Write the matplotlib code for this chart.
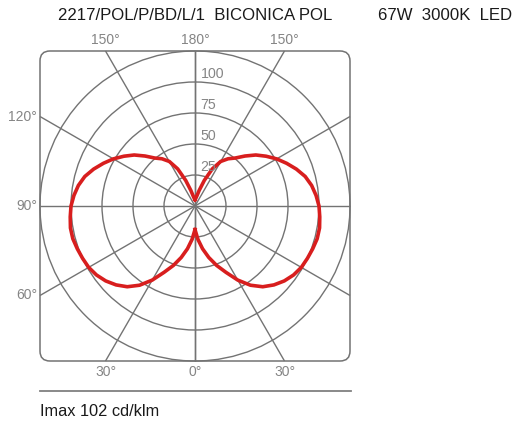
import numpy as np
import matplotlib
matplotlib.use("Agg")
import matplotlib.pyplot as plt
from matplotlib.patches import FancyBboxPatch, Circle
from matplotlib.lines import Line2D

# ---- data (cd/klm vs angle from nadir, symmetric C0-C180 plane) ----
angles_deg = [0, 5, 10, 15, 20, 25, 30, 35, 40, 45, 50, 55, 60, 65, 70, 75, 80, 85, 90,
              95, 100, 105, 110, 115, 120, 125, 130, 135, 140, 145, 150, 155, 160, 165, 170, 175, 180]
intensity = [19, 27, 35, 43, 51, 59, 69, 78, 85, 90, 94, 97, 99, 100, 101, 102, 102, 101, 100,
             98, 95.5, 92, 87, 81.5, 76, 70, 64, 57, 50.5, 46.5, 41.5, 33, 22, 13, 8, 6, 5]
ring_values = [25, 50, 75, 100, 125]
ring_labels = ["25", "50", "75", "100"]
spoke_angles = [0, 30, 60, 90, 120, 150, 180]
top_labels = ["150°", "180°", "150°"]
left_labels = ["120°", "90°", "60°"]
bottom_labels = ["30°", "0°", "30°"]
title_left = "2217/POL/P/BD/L/1  BICONICA POL"
title_right = "67W  3000K  LED"
footer = "Imax 102 cd/klm"

plt.rcParams["font.family"] = ["Liberation Sans", "DejaVu Sans"]

W, H = 516, 426
fig = plt.figure(figsize=(W / 100, H / 100), dpi=100)
R = 125.0
# axes spans the square frame: pixels x 40..350, y 51..361
ax = fig.add_axes([40 / W, (H - 361) / H, 310 / W, 310 / H])
ax.set_xlim(-R, R)
ax.set_ylim(-R, R)
ax.set_aspect("equal")
ax.axis("off")

grid_c = "#737373"
lab_c = "#858585"

# frame
frame = FancyBboxPatch((-R, -R), 2 * R, 2 * R,
                       boxstyle="round,pad=0,rounding_size=8",
                       fill=False, ec=grid_c, lw=1.1, clip_on=False)
ax.add_patch(frame)

# rings
for rv in ring_values:
    ax.add_patch(Circle((0, 0), rv, fill=False, ec=grid_c, lw=1.0, clip_on=False))

# spokes (0 deg = downward)
for a in spoke_angles:
    t = np.radians(a)
    s, c = np.sin(t), np.cos(t)
    L = R / max(abs(s), abs(c))
    for sign in (-1, 1):
        ax.plot([0, sign * L * s], [0, -L * c], color=grid_c, lw=1.0,
                clip_on=False, solid_capstyle="butt")

# ring labels
for rv, lab in zip(ring_values[:4], ring_labels):
    ax.text(4.5, rv + 1.0, lab, ha="left", va="bottom", fontsize=10.2, color=lab_c)

# angle labels
off = R * np.tan(np.radians(30))
for x, lab in zip([-off, 0, off], top_labels):
    ax.text(x, R + 8.5, lab, ha="center", va="center", fontsize=10, color=lab_c)
for x, lab in zip([-off, 0, off], bottom_labels):
    ax.text(x, -R - 9, lab, ha="center", va="center", fontsize=10, color=lab_c)
for y, lab in zip([off, 0, -off], left_labels):
    ax.text(-R - 2.5, y, lab, ha="right", va="center", fontsize=10, color=lab_c)

# curve
th = np.radians(angles_deg)
I = np.array(intensity)
red = "#d81e1e"
ax.plot(-I * np.sin(th), -I * np.cos(th), color=red, lw=2.6, clip_on=False,
        solid_joinstyle="round")
ax.plot(I * np.sin(th), -I * np.cos(th), color=red, lw=2.6, clip_on=False,
        solid_joinstyle="round")

# titles
fig.text(195 / W, 1 - 16 / H, title_left, ha="center", va="center", fontsize=12.1, color="#1a1a1a")
fig.text(378 / W, 1 - 16 / H, title_right, ha="left", va="center", fontsize=12.1, color="#1a1a1a")

# footer rule and text
fig.add_artist(Line2D([40 / W, 351 / W], [1 - 391 / H, 1 - 391 / H], color="#808080", lw=1.3))
fig.text(40 / W, 1 - 412 / H, footer, ha="left", va="center", fontsize=11.8, color="#1a1a1a")

fig.savefig("out.png", dpi=100)
